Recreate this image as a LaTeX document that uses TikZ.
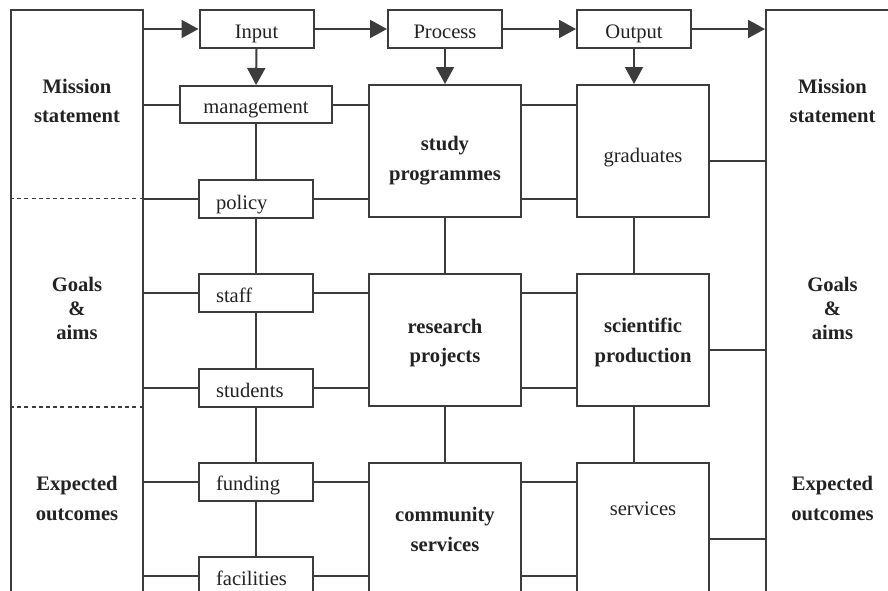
\documentclass[tikz,border=0pt]{standalone}
\usepackage{fontspec}
\setmainfont{Liberation Serif}
\usetikzlibrary{arrows.meta}
\definecolor{linegray}{HTML}{3C3C3C}
\definecolor{inkgray}{HTML}{222222}
\begin{document}
\begin{tikzpicture}[x=0.5pt,y=-0.5pt,
  ln/.style={draw=linegray, line width=1pt},
  arr/.style={ln, -{Triangle[length=8.5pt,width=9pt]}},
  divider/.style={draw=linegray, line width=0.6pt, dash pattern=on 2pt off 1.6pt},
  box/.style={ln, rectangle, inner sep=0pt, text=inkgray, font=\fontsize{10.3pt}{12pt}\selectfont},
  flow/.style={box, minimum width=57pt, minimum height=19pt, text height=9pt, text depth=0pt},
  resource/.style={box, minimum width=57pt, minimum height=19pt, inner xsep=8.5pt, text width=40pt, align=left, text height=9pt, text depth=0pt},
  bigbox/.style={box, minimum width=76pt, minimum height=66pt},
  outbox/.style={box, minimum width=66pt, minimum height=66pt},
  frame/.style={ln, rectangle, inner sep=0pt},
  % multi-line headings are anchored at the baseline of their last line
  heading/.style={text=inkgray, align=center, anchor=base, inner sep=0pt, font=\bfseries\fontsize{10.3pt}{15pt}\selectfont},
  tight/.style={font=\bfseries\fontsize{10.3pt}{12pt}\selectfont},
]
\useasboundingbox (0,0) rectangle (888,590);
\clip (0,0) rectangle (888,590);

% side frames
\node[frame, minimum width=66pt, minimum height=315pt] (L) at (77,325) {};
\node[frame, minimum width=67pt, minimum height=315pt] (R) at (833,325) {};

% side headings
\node[heading, font=\bfseries\fontsize{10.3pt}{14.75pt}\selectfont] (Lmission) at (77,122.5) {Mission\\statement};
\node[heading, tight] (Lgoals) at (77,339.3) {Goals\\\&\\aims};
\node[heading] (Lexpected) at (77,520) {Expected\\outcomes};
\node[heading, font=\bfseries\fontsize{10.3pt}{14.75pt}\selectfont] (Rmission) at (832.5,122.5) {Mission\\statement};
\node[heading, tight] (Rgoals) at (832.5,339.3) {Goals\\\&\\aims};
\node[heading] (Rexpected) at (832.5,520) {Expected\\outcomes};

% top flow
\node[flow] (input) at (256.5,29) {Input};
\node[flow] (process) at (445,29) {Process};
\node[flow] (output) at (634,29) {Output};

% input column
\node[box, minimum width=76pt, minimum height=18.5pt, text height=8.5pt, text depth=0pt] (mgmt) at (256,104.5) {management};
\node[resource, text height=10.5pt] (policy) at (256,198.5) {policy};
\node[resource] (staff) at (256,293) {staff};
\node[resource] (students) at (256,388) {students};
\node[resource] (funding) at (256,481.5) {funding};
\node[resource] (facilities) at (256,576) {facilities};

% process column
\node[bigbox] (study) at (445,151) {};
\node[bigbox] (research) at (445,340) {};
\node[bigbox] (community) at (445,529) {};
\node[heading] (studylabel) at (445,180.5) {study\\programmes};
\node[heading, font=\bfseries\fontsize{10.3pt}{14.5pt}\selectfont] (researchlabel) at (445,362) {research\\projects};
\node[heading] (communitylabel) at (445,551.7) {community\\services};

% output column
\node[outbox, text height=11pt, text depth=0pt] (graduates) at (643,151) {graduates};
\node[outbox] (scientific) at (643,340) {};
\node[outbox, text height=0pt, text depth=14pt] (services) at (643,529) {services};
\node[heading] (scientificlabel) at (643,362.7) {scientific\\production};

% dividers in the left frame
\draw[divider] (L.west |- policy.west) -- (L.east |- policy.west);
\draw[divider] (L.west |- research.south) -- (L.east |- research.south);

% top arrows
\draw[arr] (input.west -| L.east) -- (input.west);
\draw[arr] (input.east) -- (process.west);
\draw[arr] (process.east) -- (output.west);
\draw[arr] (output.east) -- (output.east -| R.west);
\draw[arr] (input.south) -- (mgmt.north);
\draw[arr] (process.south) -- (study.north);
\draw[arr] (output.south) -- (output.south |- graduates.north);

% left frame to resources
\foreach \n in {mgmt,policy,staff,students,funding,facilities}
  \draw[ln] (\n.west -| L.east) -- (\n.west);

% input column chain
\draw[ln] (mgmt.south) -- (policy.north);
\draw[ln] (policy.south) -- (staff.north);
\draw[ln] (staff.south) -- (students.north);
\draw[ln] (students.south) -- (funding.north);
\draw[ln] (funding.south) -- (facilities.north);

% resources to processes
\draw[ln] (mgmt.east) -- (mgmt.east -| study.west);
\draw[ln] (policy.east) -- (policy.east -| study.west);
\draw[ln] (staff.east) -- (staff.east -| research.west);
\draw[ln] (students.east) -- (students.east -| research.west);
\draw[ln] (funding.east) -- (funding.east -| community.west);
\draw[ln] (facilities.east) -- (facilities.east -| community.west);

% processes to outputs
\draw[ln] (study.east |- mgmt.east) -- (graduates.west |- mgmt.east);
\draw[ln] (study.east |- policy.east) -- (graduates.west |- policy.east);
\draw[ln] (research.east |- staff.east) -- (scientific.west |- staff.east);
\draw[ln] (research.east |- students.east) -- (scientific.west |- students.east);
\draw[ln] (community.east |- funding.east) -- (services.west |- funding.east);
\draw[ln] (community.east |- facilities.east) -- (services.west |- facilities.east);

% process column chain
\draw[ln] (study.south) -- (research.north);
\draw[ln] (research.south) -- (community.north);

% output column chain
\draw[ln] (graduates.south -| output.south) -- (scientific.north -| output.south);
\draw[ln] (scientific.south -| output.south) -- (services.north -| output.south);

% outputs to right frame
\draw[ln] ([yshift=-5pt]graduates.east) -- ([yshift=-5pt]graduates.east -| R.west);
\draw[ln] ([yshift=-5pt]scientific.east) -- ([yshift=-5pt]scientific.east -| R.west);
\draw[ln] ([yshift=-5pt]services.east) -- ([yshift=-5pt]services.east -| R.west);
\end{tikzpicture}
\end{document}
